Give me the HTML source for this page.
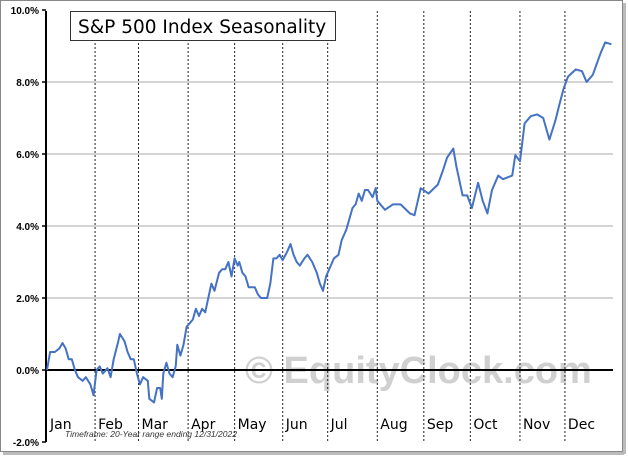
<!DOCTYPE html>
<html><head><meta charset="utf-8"><style>
html,body{margin:0;padding:0;background:#fff;}
svg{display:block;}
</style></head><body>
<svg id="chart" width="628" height="457" xmlns="http://www.w3.org/2000/svg">
<rect x="0.5" y="0.5" width="622" height="451" fill="#fff" stroke="#888"/>
<line x1="3" y1="453.5" x2="624" y2="453.5" stroke="#bbb" stroke-width="3"/>
<line x1="624.5" y1="3" x2="624.5" y2="454" stroke="#bbb" stroke-width="3"/>
<text x="245" y="383" font-family="'Liberation Sans',sans-serif" font-weight="bold" font-size="38" fill="#d0d0d0">© EquityClock.com</text>
<g id="grid"></g>
<g id="axes"></g>
<g id="series"></g>
<rect x="70.5" y="11.5" width="265" height="29" fill="#fff" stroke="#333"/>
<text x="78" y="33" font-family="'DejaVu Sans',sans-serif" font-size="18.5" fill="#000">S&amp;P 500 Index Seasonality</text>
<text x="65" y="437" font-family="'Liberation Sans',sans-serif" font-style="italic" font-size="8.5" fill="#333">Timeframe:  20-Year range ending 12/31/2022</text>
</svg>
<script>
const yTicks=[10,8,6,4,2,0,-2];
const tickLabels=["10.0%","8.0%","6.0%","4.0%","2.0%","0.0%","-2.0%"];
const months=["Jan","Feb","Mar","Apr","May","Jun","Jul","Aug","Sep","Oct","Nov","Dec"];
const monthStartDays=[0,31,59,91,121,152,181,213,243,273,305,334];
const days=[0,2,5,8,10,12,14,16,18,20,23,25,28,30,32,34,36,39,41,43,46,47,50,52,54,56,58,60,62,65,66,69,71,73,74,75,77,79,81,83,84,86,88,90,92,94,96,98,100,102,104,106,108,111,113,115,117,119,121,123,124,126,128,130,132,134,136,138,140,142,144,146,148,150,152,155,157,159,161,163,166,168,171,174,176,178,180,183,185,188,190,193,195,197,199,201,203,205,207,210,212,213,218,223,228,234,237,241,246,252,255,258,262,264,268,271,274,278,281,284,287,291,294,300,302,305,308,312,316,320,324,328,330,333,336,341,345,348,352,357,360,364];
const values=[0,0.5,0.5,0.6,0.75,0.6,0.3,0.3,0,-0.2,-0.3,-0.2,-0.4,-0.7,0,0.1,-0.1,0.05,-0.2,0.3,0.8,1.0,0.8,0.5,0.3,0.3,-0.1,-0.4,-0.2,-0.3,-0.8,-0.9,-0.5,-0.5,-0.8,-0.1,0.2,-0.1,-0.2,0.1,0.7,0.4,0.7,1.2,1.3,1.4,1.7,1.5,1.7,1.6,2.0,2.4,2.2,2.7,2.8,2.8,3.0,2.6,3.1,2.9,3.0,2.7,2.6,2.3,2.3,2.3,2.1,2.0,2.0,2.0,2.4,3.1,3.1,3.2,3.05,3.3,3.5,3.2,3.0,2.9,3.1,3.2,3.0,2.7,2.4,2.2,2.6,2.9,3.1,3.2,3.6,3.9,4.2,4.5,4.6,4.9,4.7,5.0,5.0,4.8,5.05,4.7,4.45,4.6,4.6,4.35,4.3,5.05,4.9,5.15,5.5,5.9,6.15,5.65,4.85,4.85,4.5,5.2,4.7,4.35,5.0,5.4,5.3,5.4,5.97,5.8,6.85,7.05,7.1,7.0,6.4,6.95,7.3,7.8,8.15,8.35,8.3,8.0,8.2,8.8,9.1,9.05];
const NS="http://www.w3.org/2000/svg";
const X0=47,X1=613,Y0=370,PX=36;
function xScale(d){return X0+d/365*(X1-X0);}
function yScale(v){return Y0-v*PX;}
function mk(tag,attrs,parent){const e=document.createElementNS(NS,tag);for(const k in attrs)e.setAttribute(k,attrs[k]);parent.appendChild(e);return e;}
const grid=document.getElementById('grid'),axes=document.getElementById('axes'),series=document.getElementById('series');
yTicks.forEach((t,i)=>{
  const y=yScale(t);
  if(t!==0&&t!==10&&t!==-2){const g=mk('line',{x1:46,x2:X1,y1:y,y2:y,stroke:'#aaa','stroke-width':1},grid);
    
    }
  const tk=mk('line',{x1:42,x2:46,y1:y,y2:y,stroke:'#000','stroke-width':1.5},axes);
  
  
  const lb=mk('text',{x:39,y:y+4,'text-anchor':'end','font-family':"'Liberation Sans',sans-serif",'font-size':10,'font-weight':'bold',fill:'#000'},axes);
  lb.textContent=tickLabels[i];
  
  
});
months.forEach((m,i)=>{
  const x=xScale(monthStartDays[i]);
  if(i>0){const d=mk('line',{x1:x,x2:x,y1:11,y2:442,stroke:'#222','stroke-width':1,'stroke-dasharray':'2,2'},grid);
    
    }
  const t=mk('text',{x:x+3,y:429,'font-family':"'DejaVu Sans',sans-serif",'font-size':14,fill:'#000'},axes);
  t.textContent=m;
  
  
});
const ya=mk('line',{x1:46,x2:46,y1:11,y2:442,stroke:'#000','stroke-width':2},axes);


const zl=mk('line',{x1:46,x2:X1,y1:Y0,y2:Y0,stroke:'#000','stroke-width':2},axes);


const pts=days.map((d,i)=>xScale(d).toFixed(1)+','+yScale(values[i]).toFixed(1)).join(' ');
const pl=mk('polyline',{points:pts,fill:'none',stroke:'#4472c4','stroke-width':2,'stroke-linejoin':'round'},series);


</script>
</body></html>
